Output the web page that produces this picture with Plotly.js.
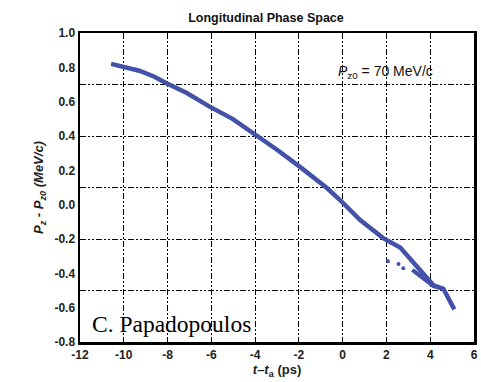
<!DOCTYPE html>
<html><head><meta charset="utf-8">
<script src="https://cdn.plot.ly/plotly-3.0.1.min.js"></script>
<style>body{margin:0;background:#fff}#c{width:481px;height:382px}</style>
</head><body><div id="c"></div>
<script>
// main curve
const mainX = [-10.58, -9.29, -8.6, -8.05, -7.14, -6.08, -5.03, -3.93, -3.0, -1.95, -0.72, -0.12, 0.8, 1.85, 2.63, 3.32, 3.8, 4.15, 4.6, 5.1];
const mainY = [0.82, 0.78, 0.745, 0.707, 0.652, 0.571, 0.500, 0.406, 0.32, 0.22, 0.097, 0.027, -0.09, -0.195, -0.25, -0.35, -0.42, -0.47, -0.49, -0.61];
// dotted branch
const dotX = [2.07, 2.55, 2.77];
const dotY = [-0.33, -0.345, -0.37];
// lower solid branch
const branchX = [3.18, 3.6, 4.15, 4.6];
const branchY = [-0.38, -0.42, -0.475, -0.49];
// gridline positions (independent of tick labels)
const xGrid = [-10, -8, -6, -4, -2, 0, 2, 4];
const yGrid = [0.7, 0.4, 0.1, -0.2, -0.5];
const yTicks = [1.0, 0.8, 0.6, 0.4, 0.2, 0.0, -0.2, -0.4, -0.6, -0.8];
const xTicks = [-12, -10, -8, -6, -4, -2, 0, 2, 4, 6];

const col = '#4352a8';
const sans = '"Liberation Sans", Arial, sans-serif';
const dash = '6px,2px,2px,2px,2px,2px';

const traces = [
  {x: mainX, y: mainY, mode: 'lines', line: {color: col, width: 4.5}, hoverinfo: 'skip'},
  {x: dotX, y: dotY, mode: 'markers', marker: {color: col, size: 4}, hoverinfo: 'skip'},
  {x: branchX, y: branchY, mode: 'lines', line: {color: col, width: 4}, hoverinfo: 'skip'},
  {x: [null], y: [null], yaxis: 'y2', xaxis: 'x2', mode: 'lines', hoverinfo: 'skip'}
];

const layout = {
  width: 481, height: 382,
  margin: {l: 80, r: 7, t: 33, b: 40},
  paper_bgcolor: '#fff', plot_bgcolor: '#fff',
  showlegend: false,
  title: {text: '<b>Longitudinal Phase Space</b>', x: 0.553, xanchor: 'center', y: 0.955, yanchor: 'middle',
          font: {family: sans, size: 12.5, color: '#111'}},
  xaxis: {range: [-12, 6], tickmode: 'array', tickvals: xTicks, ticktext: xTicks.map(v => '<b>' + v + '</b>'),
          showgrid: false, zeroline: false, showline: true, mirror: true, linecolor: '#000', linewidth: 2.5,
          ticks: '', tickfont: {family: sans, size: 12, color: '#222'},
          title: {text: '<b><i>t</i>–<i>t</i><sub>a</sub> (ps)</b>', font: {family: sans, size: 13, color: '#222'}, standoff: 4}},
  xaxis2: {range: [-12, 6], overlaying: 'x', tickmode: 'array', tickvals: xGrid, showticklabels: false, ticks: '',
           showgrid: true, gridcolor: '#000', gridwidth: 1, griddash: dash, zeroline: false, showline: false},
  yaxis: {range: [-0.8, 1.0], tickmode: 'array', tickvals: yTicks, ticktext: yTicks.map(v => '<b>' + v.toFixed(1) + '</b>'),
          showgrid: false, zeroline: false, showline: true, mirror: true, linecolor: '#000', linewidth: 2.5,
          ticks: '', tickfont: {family: sans, size: 12, color: '#222'},
          title: {text: '<b><i>P<sub>z</sub> - P<sub>z0</sub> (MeV/c)</i></b>', font: {family: sans, size: 13, color: '#222'}, standoff: 8}},
  yaxis2: {range: [-0.8, 1.0], overlaying: 'y', tickmode: 'array', tickvals: yGrid, showticklabels: false, ticks: '',
           showgrid: true, gridcolor: '#000', gridwidth: 1, griddash: dash, zeroline: false, showline: false},
  annotations: [
    {x: 1.95, y: 0.773, xref: 'x', yref: 'y', text: '<i>P</i><sub>z0</sub> = 70 MeV/c', showarrow: false,
     font: {family: sans, size: 14, color: '#111'}, xanchor: 'center', yanchor: 'middle'},
    {x: (90 - 80) / 394, y: (342 - 324) / 309, xref: 'paper', yref: 'paper', text: 'C. Papadopoulos', showarrow: false,
     font: {family: '"Liberation Serif", "Times New Roman", serif', size: 23.5, color: '#000'}, xanchor: 'left', yanchor: 'middle'}
  ]
};

Plotly.newPlot('c', traces, layout, {staticPlot: true, displayModeBar: false});
</script></body></html>
